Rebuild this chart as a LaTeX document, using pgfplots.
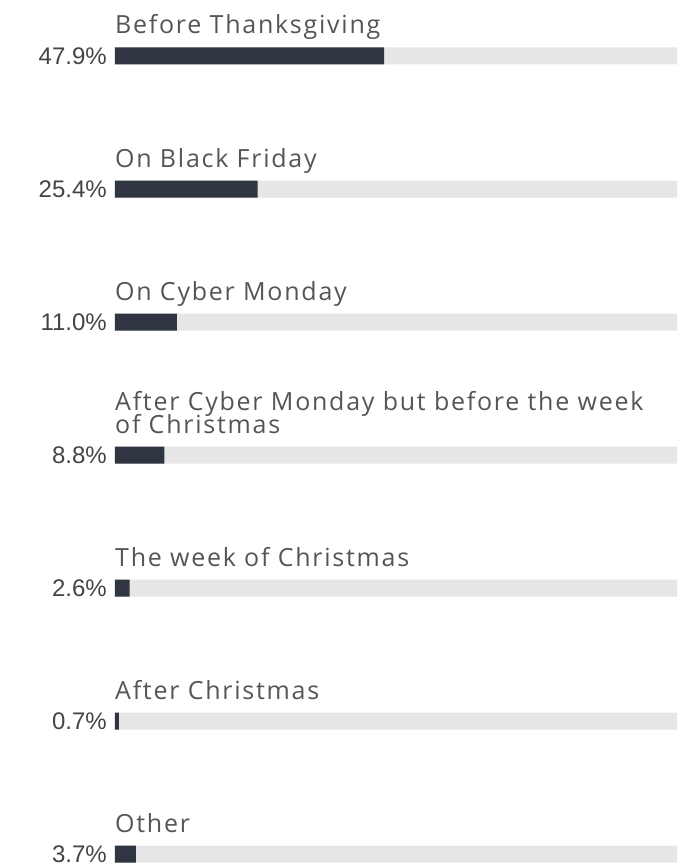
\documentclass[border=0pt]{standalone}
\usepackage{fontspec}
\setmainfont{Liberation Sans}
\newfontfamily\labfont[LetterSpace=7]{Open Sans}
\usepackage{pgfplots}
\pgfplotsset{compat=1.18}
\definecolor{barc}{HTML}{2F3541}
\definecolor{bgc}{HTML}{E6E6E6}
\definecolor{labc}{HTML}{555555}
\definecolor{numc}{HTML}{444444}
\begin{document}
\begin{tikzpicture}
\begin{axis}[
  scale only axis, width=562pt, height=864pt,
  xmin=0, xmax=100, ymin=-0.421, ymax=6.075, y dir=reverse,
  axis lines=none, xbar, bar width=17pt, clip=false,
  ticks=none,
]
\addplot[fill=bgc, draw=none, bar shift=0pt] coordinates {(100,0) (100,1) (100,2) (100,3) (100,4) (100,5) (100,6)};
\addplot[fill=barc, draw=none, bar shift=0pt] coordinates {(47.9,0) (25.4,1) (11.0,2) (8.8,3) (2.6,4) (0.7,5) (3.7,6)};
\foreach \y/\v in {0/47.9,1/25.4,2/11.0,3/8.8,4/2.6,5/0.7,6/3.7}{
  \edef\tmp{\noexpand\node[anchor=east, font=\noexpand\fontsize{24}{26}\noexpand\selectfont, text=numc, inner sep=0pt] at (axis cs:0,\y) [xshift=-8pt] {\v\noexpand\%};}
  \tmp
}
\foreach \y/\t in {0/Before Thanksgiving,1/On Black Friday,2/On Cyber Monday,4/The week of Christmas,5/After Christmas,6/Other}{
  \edef\tmp{\noexpand\node[anchor=base west, font=\noexpand\labfont\noexpand\fontsize{25}{27}\noexpand\selectfont, text=labc, inner sep=0pt] at (axis cs:0,\y) [yshift=22pt] {\t};}
  \tmp
}
\node[anchor=base west, font=\labfont\fontsize{25}{27}\selectfont, text=labc, inner sep=0pt, align=left] at (axis cs:0,3) [yshift=22pt] {of Christmas};
\node[anchor=base west, font=\labfont\fontsize{25}{27}\selectfont, text=labc, inner sep=0pt, align=left] at (axis cs:0,3) [yshift=45pt] {After Cyber Monday but before the week};
\end{axis}
\pgfresetboundingbox
\path (-115pt,0pt) rectangle (581pt,864pt);
\end{tikzpicture}
\end{document}
